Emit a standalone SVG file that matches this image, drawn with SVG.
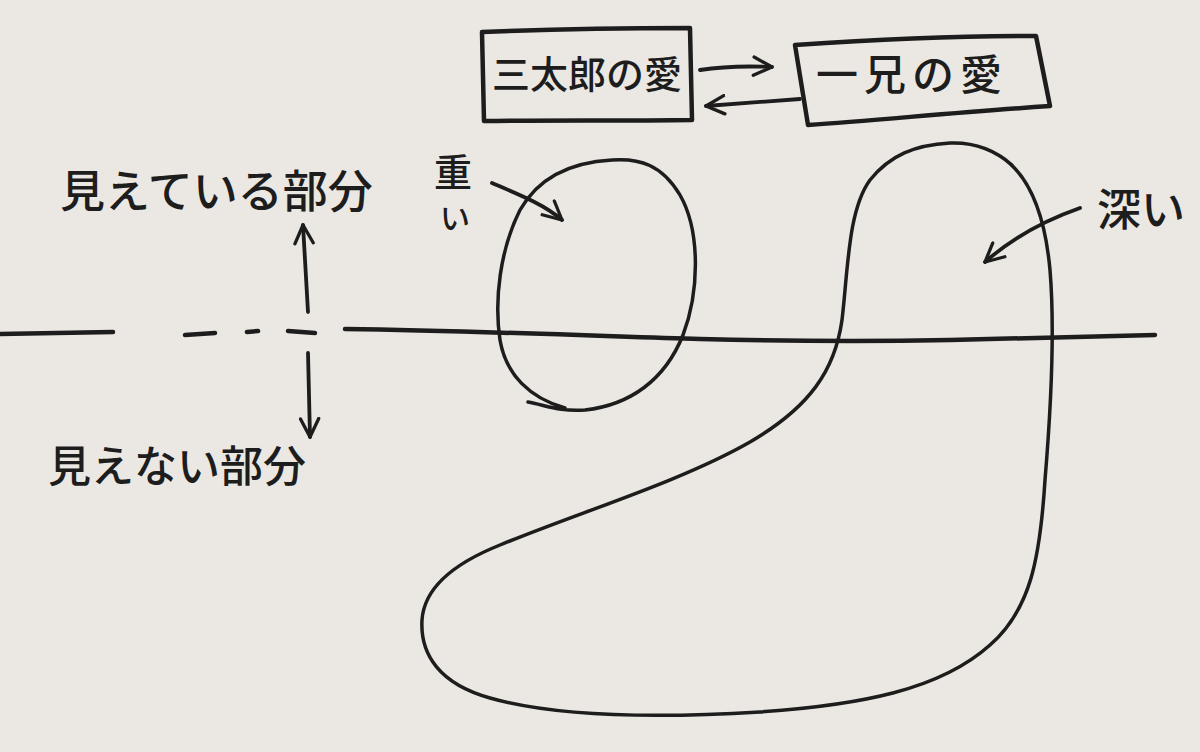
<svg xmlns="http://www.w3.org/2000/svg" width="1200" height="752" viewBox="0 0 1200 752">
  <defs>
    <marker id="head" viewBox="0 0 12 12" refX="11" refY="6" markerWidth="22" markerHeight="22" markerUnits="userSpaceOnUse" orient="auto">
      <path d="M1,1 L11,6 L1,11" fill="none" stroke="#1d1d1d" stroke-width="1.8" stroke-linecap="round" stroke-linejoin="round"/>
    </marker>
    <style>
      .ink { fill: none; stroke: #1d1d1d; stroke-width: 4.5; stroke-linecap: round; stroke-linejoin: round; }
      .thin { fill: none; stroke: #1d1d1d; stroke-width: 3.5; stroke-linecap: round; stroke-linejoin: round; }
      .conn { fill: none; stroke: #1d1d1d; stroke-width: 3.8; stroke-linecap: round; marker-end: url(#head); }
      .lbl { font-family: "Noto Sans CJK JP", "Noto Sans CJK SC", sans-serif; fill: #1d1d1d; font-weight: 500; }
    </style>
  </defs>

  <rect width="1200" height="752" fill="#ebe8e3"/>

  <!-- water line -->
  <g id="waterline">
    <path class="ink" d="M0,334 L113,332"/>
    <path class="ink" d="M185,335 L215,333"/>
    <path class="ink" d="M247,332 L258,331"/>
    <path class="ink" d="M288,331 L315,333"/>
    <path class="ink" d="M345,329 C480,331 600,336 700,339 C780,341 850,342 950,340 C1040,338 1100,336 1155,335"/>
  </g>

  <!-- shapes -->
  <g id="heavy-circle">
    <path class="thin" d="M528,402 C545,405 560,412 585,410 C630,405 665,380 683,335 C700,290 700,230 680,195 C662,165 640,158 612,160 C575,162 540,175 520,210 C500,250 494,300 500,340 C506,375 530,398 565,408"/>
  </g>
  <g id="deep-shape">
    <path class="thin" d="M1000,156 C1030,175 1045,215 1050,270 C1055,330 1050,420 1045,480 C1040,560 1030,610 990,645 C940,690 860,705 760,712 C660,718 560,718 490,698 C440,684 420,655 422,620 C424,590 450,565 500,545 C580,512 680,482 750,442 C810,407 835,370 842,320 C848,270 848,210 870,180 C890,155 915,145 950,143 C975,142 995,150 1012,165"/>
  </g>

  <!-- nodes -->
  <g id="box-santaro">
    <path class="ink" d="M482,32 C530,30 600,28 690,28 L692,120 C620,121 550,120 484,121 Z"/>
    <text class="lbl" x="587" y="88" font-size="38" text-anchor="middle">三太郎の愛</text>
  </g>
  <g id="box-ichinii">
    <path class="ink" d="M795,45 C870,40 960,36 1036,36 L1050,106 C960,112 880,120 808,125 Z"/>
    <text class="lbl" x="912" y="90" font-size="42" text-anchor="middle" letter-spacing="6">一兄の愛</text>
  </g>
  <g id="label-visible">
    <text class="lbl" x="60" y="208" font-size="45">見えている部分</text>
  </g>
  <g id="label-invisible">
    <text class="lbl" x="48" y="482" font-size="43">見えない部分</text>
  </g>
  <g id="label-heavy">
    <text class="lbl" x="434" y="186" font-size="38">重</text>
    <text class="lbl" x="440" y="229" font-size="30">い</text>
  </g>
  <g id="label-deep">
    <text class="lbl" x="1097" y="226" font-size="44">深い</text>
  </g>

  <!-- connectors -->
  <g id="connectors">
    <path class="conn" d="M700,70 C725,66 750,66 772,67"/>
    <path class="conn" d="M800,99 C770,101 735,104 706,106"/>
    <path class="conn" d="M492,183 C520,195 545,205 562,220"/>
    <path class="conn" d="M1080,208 C1040,222 1010,240 985,262"/>
    <path class="conn" d="M308,312 L303,225"/>
    <path class="conn" d="M308,353 L310,437"/>
  </g>
</svg>
